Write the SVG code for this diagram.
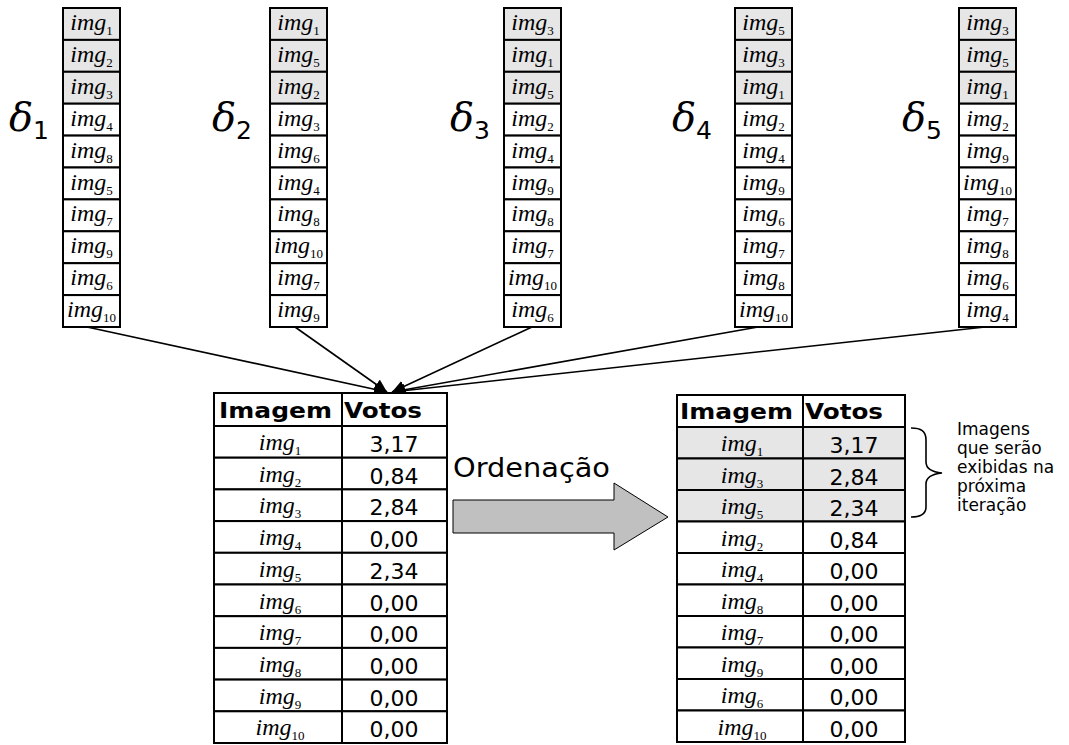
<svg xmlns="http://www.w3.org/2000/svg" width="1069" height="745" viewBox="0 0 1069 745">
<defs>
<style>
.c{fill:#fff;stroke:#000;stroke-width:2}
.g{fill:#e6e6e6;stroke:#000;stroke-width:2}
.im{font-family:"Liberation Serif",serif;font-style:italic;font-size:24px;fill:#000;text-anchor:middle}
.sb{font-style:normal;font-size:13px}
.v{font-family:"DejaVu Sans",sans-serif;font-size:22px;fill:#000;text-anchor:middle}
.h{font-family:"DejaVu Sans",sans-serif;font-weight:bold;font-size:21px;fill:#000}
.d{font-family:"DejaVu Serif",serif;font-style:italic;font-size:40px;fill:#000}
.ds{font-family:"DejaVu Sans",sans-serif;font-style:normal;font-size:25px}
.n{font-family:"DejaVu Sans",sans-serif;font-size:17px;fill:#000}
.cn{stroke:#000;stroke-width:1.6;fill:none}
</style>
<marker id="ah" markerUnits="userSpaceOnUse" markerWidth="14" markerHeight="12" refX="13" refY="6" orient="auto">
<path d="M0,0 L13,6 L0,12 Z" fill="#000"/>
</marker>
</defs>
<rect width="1069" height="745" fill="#fff"/>

<g id="label-d1"><text class="d" x="9" y="131">δ<tspan class="ds" dy="8">1</tspan></text></g>
<g id="label-d2"><text class="d" x="212" y="131">δ<tspan class="ds" dy="8">2</tspan></text></g>
<g id="label-d3"><text class="d" x="450" y="131">δ<tspan class="ds" dy="8">3</tspan></text></g>
<g id="label-d4"><text class="d" x="672" y="131">δ<tspan class="ds" dy="8">4</tspan></text></g>
<g id="label-d5"><text class="d" x="902" y="131">δ<tspan class="ds" dy="8">5</tspan></text></g>

<g id="col1">
<rect class="g" x="63" y="8" width="57" height="31.9"/><text class="im" x="91.5" y="30">img<tspan class="sb" dy="5">1</tspan></text>
<rect class="g" x="63" y="39.9" width="57" height="31.9"/><text class="im" x="91.5" y="61.9">img<tspan class="sb" dy="5">2</tspan></text>
<rect class="g" x="63" y="71.8" width="57" height="31.9"/><text class="im" x="91.5" y="93.8">img<tspan class="sb" dy="5">3</tspan></text>
<rect class="c" x="63" y="103.7" width="57" height="31.9"/><text class="im" x="91.5" y="125.7">img<tspan class="sb" dy="5">4</tspan></text>
<rect class="c" x="63" y="135.6" width="57" height="31.9"/><text class="im" x="91.5" y="157.6">img<tspan class="sb" dy="5">8</tspan></text>
<rect class="c" x="63" y="167.5" width="57" height="31.9"/><text class="im" x="91.5" y="189.5">img<tspan class="sb" dy="5">5</tspan></text>
<rect class="c" x="63" y="199.4" width="57" height="31.9"/><text class="im" x="91.5" y="221.4">img<tspan class="sb" dy="5">7</tspan></text>
<rect class="c" x="63" y="231.3" width="57" height="31.9"/><text class="im" x="91.5" y="253.3">img<tspan class="sb" dy="5">9</tspan></text>
<rect class="c" x="63" y="263.2" width="57" height="31.9"/><text class="im" x="91.5" y="285.2">img<tspan class="sb" dy="5">6</tspan></text>
<rect class="c" x="63" y="295.1" width="57" height="31.9"/><text class="im" x="91.5" y="317.1">img<tspan class="sb" dy="5">10</tspan></text>
</g>

<g id="col2">
<rect class="g" x="270" y="8" width="57" height="31.9"/><text class="im" x="298.5" y="30">img<tspan class="sb" dy="5">1</tspan></text>
<rect class="g" x="270" y="39.9" width="57" height="31.9"/><text class="im" x="298.5" y="61.9">img<tspan class="sb" dy="5">5</tspan></text>
<rect class="g" x="270" y="71.8" width="57" height="31.9"/><text class="im" x="298.5" y="93.8">img<tspan class="sb" dy="5">2</tspan></text>
<rect class="c" x="270" y="103.7" width="57" height="31.9"/><text class="im" x="298.5" y="125.7">img<tspan class="sb" dy="5">3</tspan></text>
<rect class="c" x="270" y="135.6" width="57" height="31.9"/><text class="im" x="298.5" y="157.6">img<tspan class="sb" dy="5">6</tspan></text>
<rect class="c" x="270" y="167.5" width="57" height="31.9"/><text class="im" x="298.5" y="189.5">img<tspan class="sb" dy="5">4</tspan></text>
<rect class="c" x="270" y="199.4" width="57" height="31.9"/><text class="im" x="298.5" y="221.4">img<tspan class="sb" dy="5">8</tspan></text>
<rect class="c" x="270" y="231.3" width="57" height="31.9"/><text class="im" x="298.5" y="253.3">img<tspan class="sb" dy="5">10</tspan></text>
<rect class="c" x="270" y="263.2" width="57" height="31.9"/><text class="im" x="298.5" y="285.2">img<tspan class="sb" dy="5">7</tspan></text>
<rect class="c" x="270" y="295.1" width="57" height="31.9"/><text class="im" x="298.5" y="317.1">img<tspan class="sb" dy="5">9</tspan></text>
</g>

<g id="col3">
<rect class="g" x="504" y="8" width="57" height="31.9"/><text class="im" x="532.5" y="30">img<tspan class="sb" dy="5">3</tspan></text>
<rect class="g" x="504" y="39.9" width="57" height="31.9"/><text class="im" x="532.5" y="61.9">img<tspan class="sb" dy="5">1</tspan></text>
<rect class="g" x="504" y="71.8" width="57" height="31.9"/><text class="im" x="532.5" y="93.8">img<tspan class="sb" dy="5">5</tspan></text>
<rect class="c" x="504" y="103.7" width="57" height="31.9"/><text class="im" x="532.5" y="125.7">img<tspan class="sb" dy="5">2</tspan></text>
<rect class="c" x="504" y="135.6" width="57" height="31.9"/><text class="im" x="532.5" y="157.6">img<tspan class="sb" dy="5">4</tspan></text>
<rect class="c" x="504" y="167.5" width="57" height="31.9"/><text class="im" x="532.5" y="189.5">img<tspan class="sb" dy="5">9</tspan></text>
<rect class="c" x="504" y="199.4" width="57" height="31.9"/><text class="im" x="532.5" y="221.4">img<tspan class="sb" dy="5">8</tspan></text>
<rect class="c" x="504" y="231.3" width="57" height="31.9"/><text class="im" x="532.5" y="253.3">img<tspan class="sb" dy="5">7</tspan></text>
<rect class="c" x="504" y="263.2" width="57" height="31.9"/><text class="im" x="532.5" y="285.2">img<tspan class="sb" dy="5">10</tspan></text>
<rect class="c" x="504" y="295.1" width="57" height="31.9"/><text class="im" x="532.5" y="317.1">img<tspan class="sb" dy="5">6</tspan></text>
</g>

<g id="col4">
<rect class="g" x="735" y="8" width="57" height="31.9"/><text class="im" x="763.5" y="30">img<tspan class="sb" dy="5">5</tspan></text>
<rect class="g" x="735" y="39.9" width="57" height="31.9"/><text class="im" x="763.5" y="61.9">img<tspan class="sb" dy="5">3</tspan></text>
<rect class="g" x="735" y="71.8" width="57" height="31.9"/><text class="im" x="763.5" y="93.8">img<tspan class="sb" dy="5">1</tspan></text>
<rect class="c" x="735" y="103.7" width="57" height="31.9"/><text class="im" x="763.5" y="125.7">img<tspan class="sb" dy="5">2</tspan></text>
<rect class="c" x="735" y="135.6" width="57" height="31.9"/><text class="im" x="763.5" y="157.6">img<tspan class="sb" dy="5">4</tspan></text>
<rect class="c" x="735" y="167.5" width="57" height="31.9"/><text class="im" x="763.5" y="189.5">img<tspan class="sb" dy="5">9</tspan></text>
<rect class="c" x="735" y="199.4" width="57" height="31.9"/><text class="im" x="763.5" y="221.4">img<tspan class="sb" dy="5">6</tspan></text>
<rect class="c" x="735" y="231.3" width="57" height="31.9"/><text class="im" x="763.5" y="253.3">img<tspan class="sb" dy="5">7</tspan></text>
<rect class="c" x="735" y="263.2" width="57" height="31.9"/><text class="im" x="763.5" y="285.2">img<tspan class="sb" dy="5">8</tspan></text>
<rect class="c" x="735" y="295.1" width="57" height="31.9"/><text class="im" x="763.5" y="317.1">img<tspan class="sb" dy="5">10</tspan></text>
</g>

<g id="col5">
<rect class="g" x="959" y="8" width="57" height="31.9"/><text class="im" x="987.5" y="30">img<tspan class="sb" dy="5">3</tspan></text>
<rect class="g" x="959" y="39.9" width="57" height="31.9"/><text class="im" x="987.5" y="61.9">img<tspan class="sb" dy="5">5</tspan></text>
<rect class="g" x="959" y="71.8" width="57" height="31.9"/><text class="im" x="987.5" y="93.8">img<tspan class="sb" dy="5">1</tspan></text>
<rect class="c" x="959" y="103.7" width="57" height="31.9"/><text class="im" x="987.5" y="125.7">img<tspan class="sb" dy="5">2</tspan></text>
<rect class="c" x="959" y="135.6" width="57" height="31.9"/><text class="im" x="987.5" y="157.6">img<tspan class="sb" dy="5">9</tspan></text>
<rect class="c" x="959" y="167.5" width="57" height="31.9"/><text class="im" x="987.5" y="189.5">img<tspan class="sb" dy="5">10</tspan></text>
<rect class="c" x="959" y="199.4" width="57" height="31.9"/><text class="im" x="987.5" y="221.4">img<tspan class="sb" dy="5">7</tspan></text>
<rect class="c" x="959" y="231.3" width="57" height="31.9"/><text class="im" x="987.5" y="253.3">img<tspan class="sb" dy="5">8</tspan></text>
<rect class="c" x="959" y="263.2" width="57" height="31.9"/><text class="im" x="987.5" y="285.2">img<tspan class="sb" dy="5">6</tspan></text>
<rect class="c" x="959" y="295.1" width="57" height="31.9"/><text class="im" x="987.5" y="317.1">img<tspan class="sb" dy="5">4</tspan></text>
</g>

<g id="connectors">
<line class="cn" x1="87" y1="327" x2="387" y2="392" marker-end="url(#ah)"/>
<line class="cn" x1="295" y1="327" x2="387" y2="392" marker-end="url(#ah)"/>
<line class="cn" x1="532" y1="327" x2="392" y2="392" marker-end="url(#ah)"/>
<line class="cn" x1="758" y1="327" x2="392" y2="392" marker-end="url(#ah)"/>
<line class="cn" x1="985" y1="327" x2="392" y2="392" marker-end="url(#ah)"/>
</g>

<g id="table-votes">
<rect class="c" x="214" y="393" width="128" height="33"/><text class="h" x="219" y="418" textLength="113" lengthAdjust="spacingAndGlyphs">Imagem</text>
<rect class="c" x="342" y="393" width="105" height="33"/><text class="h" x="344" y="418" textLength="78" lengthAdjust="spacingAndGlyphs">Votos</text>
<rect class="c" x="214" y="426" width="128" height="31.7"/><rect class="c" x="342" y="426" width="105" height="31.7"/>
<text class="im" x="280" y="450">img<tspan class="sb" dy="5">1</tspan></text><text class="v" x="394" y="452">3,17</text>
<rect class="c" x="214" y="457.7" width="128" height="31.7"/><rect class="c" x="342" y="457.7" width="105" height="31.7"/>
<text class="im" x="280" y="481.7">img<tspan class="sb" dy="5">2</tspan></text><text class="v" x="394" y="483.7">0,84</text>
<rect class="c" x="214" y="489.4" width="128" height="31.7"/><rect class="c" x="342" y="489.4" width="105" height="31.7"/>
<text class="im" x="280" y="513.4">img<tspan class="sb" dy="5">3</tspan></text><text class="v" x="394" y="515.4">2,84</text>
<rect class="c" x="214" y="521.1" width="128" height="31.7"/><rect class="c" x="342" y="521.1" width="105" height="31.7"/>
<text class="im" x="280" y="545.1">img<tspan class="sb" dy="5">4</tspan></text><text class="v" x="394" y="547.1">0,00</text>
<rect class="c" x="214" y="552.8" width="128" height="31.7"/><rect class="c" x="342" y="552.8" width="105" height="31.7"/>
<text class="im" x="280" y="576.8">img<tspan class="sb" dy="5">5</tspan></text><text class="v" x="394" y="578.8">2,34</text>
<rect class="c" x="214" y="584.5" width="128" height="31.7"/><rect class="c" x="342" y="584.5" width="105" height="31.7"/>
<text class="im" x="280" y="608.5">img<tspan class="sb" dy="5">6</tspan></text><text class="v" x="394" y="610.5">0,00</text>
<rect class="c" x="214" y="616.2" width="128" height="31.7"/><rect class="c" x="342" y="616.2" width="105" height="31.7"/>
<text class="im" x="280" y="640.2">img<tspan class="sb" dy="5">7</tspan></text><text class="v" x="394" y="642.2">0,00</text>
<rect class="c" x="214" y="647.9" width="128" height="31.7"/><rect class="c" x="342" y="647.9" width="105" height="31.7"/>
<text class="im" x="280" y="671.9">img<tspan class="sb" dy="5">8</tspan></text><text class="v" x="394" y="673.9">0,00</text>
<rect class="c" x="214" y="679.6" width="128" height="31.7"/><rect class="c" x="342" y="679.6" width="105" height="31.7"/>
<text class="im" x="280" y="703.6">img<tspan class="sb" dy="5">9</tspan></text><text class="v" x="394" y="705.6">0,00</text>
<rect class="c" x="214" y="711.3" width="128" height="31.7"/><rect class="c" x="342" y="711.3" width="105" height="31.7"/>
<text class="im" x="280" y="735.3">img<tspan class="sb" dy="5">10</tspan></text><text class="v" x="394" y="737.3">0,00</text>
</g>

<g id="sort-arrow">
<text class="n" x="453" y="477" style="font-size:26px" textLength="157" lengthAdjust="spacingAndGlyphs">Ordenação</text>
<path d="M453,500 L614,500 L614,483 L668,517 L614,550 L614,533 L453,533 Z" fill="#c0c0c0" stroke="#000" stroke-width="1"/>
</g>

<g id="table-sorted">
<rect class="c" x="677" y="395" width="126" height="32"/><text class="h" x="680" y="419" textLength="113" lengthAdjust="spacingAndGlyphs">Imagem</text>
<rect class="c" x="803" y="395" width="102" height="32"/><text class="h" x="805" y="419" textLength="78" lengthAdjust="spacingAndGlyphs">Votos</text>
<rect class="g" x="677" y="427" width="126" height="31.5"/><rect class="g" x="803" y="427" width="102" height="31.5"/>
<text class="im" x="742" y="451">img<tspan class="sb" dy="5">1</tspan></text><text class="v" x="854" y="453">3,17</text>
<rect class="g" x="677" y="458.5" width="126" height="31.5"/><rect class="g" x="803" y="458.5" width="102" height="31.5"/>
<text class="im" x="742" y="482.5">img<tspan class="sb" dy="5">3</tspan></text><text class="v" x="854" y="484.5">2,84</text>
<rect class="g" x="677" y="490" width="126" height="31.5"/><rect class="g" x="803" y="490" width="102" height="31.5"/>
<text class="im" x="742" y="514">img<tspan class="sb" dy="5">5</tspan></text><text class="v" x="854" y="516">2,34</text>
<rect class="c" x="677" y="521.5" width="126" height="31.5"/><rect class="c" x="803" y="521.5" width="102" height="31.5"/>
<text class="im" x="742" y="545.5">img<tspan class="sb" dy="5">2</tspan></text><text class="v" x="854" y="547.5">0,84</text>
<rect class="c" x="677" y="553" width="126" height="31.5"/><rect class="c" x="803" y="553" width="102" height="31.5"/>
<text class="im" x="742" y="577">img<tspan class="sb" dy="5">4</tspan></text><text class="v" x="854" y="579">0,00</text>
<rect class="c" x="677" y="584.5" width="126" height="31.5"/><rect class="c" x="803" y="584.5" width="102" height="31.5"/>
<text class="im" x="742" y="608.5">img<tspan class="sb" dy="5">8</tspan></text><text class="v" x="854" y="610.5">0,00</text>
<rect class="c" x="677" y="616" width="126" height="31.5"/><rect class="c" x="803" y="616" width="102" height="31.5"/>
<text class="im" x="742" y="640">img<tspan class="sb" dy="5">7</tspan></text><text class="v" x="854" y="642">0,00</text>
<rect class="c" x="677" y="647.5" width="126" height="31.5"/><rect class="c" x="803" y="647.5" width="102" height="31.5"/>
<text class="im" x="742" y="671.5">img<tspan class="sb" dy="5">9</tspan></text><text class="v" x="854" y="673.5">0,00</text>
<rect class="c" x="677" y="679" width="126" height="31.5"/><rect class="c" x="803" y="679" width="102" height="31.5"/>
<text class="im" x="742" y="703">img<tspan class="sb" dy="5">6</tspan></text><text class="v" x="854" y="705">0,00</text>
<rect class="c" x="677" y="710.5" width="126" height="31.5"/><rect class="c" x="803" y="710.5" width="102" height="31.5"/>
<text class="im" x="742" y="734.5">img<tspan class="sb" dy="5">10</tspan></text><text class="v" x="854" y="736.5">0,00</text>
</g>

<g id="note">
<path d="M911,428 C921,428 926,431 926,440 L926,462 C926,469 932,472 942,473 C932,474 926,477 926,484 L926,507 C926,514 921,517 911,517" fill="none" stroke="#000" stroke-width="1.6"/>
<text class="n" x="957" y="435">Imagens</text>
<text class="n" x="957" y="454">que serão</text>
<text class="n" x="957" y="473">exibidas na</text>
<text class="n" x="957" y="492">próxima</text>
<text class="n" x="957" y="511">iteração</text>
</g>
</svg>
